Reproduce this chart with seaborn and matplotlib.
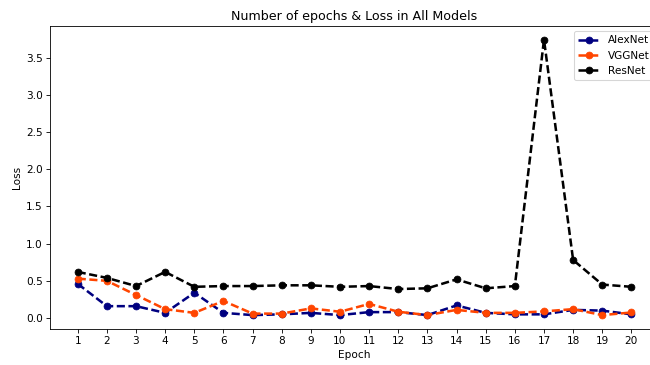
import matplotlib
matplotlib.use('Agg')
import matplotlib.pyplot as plt
import seaborn as sns

# Loss per epoch for the three models
epochs = list(range(1, 21))
alexnet_loss = [0.46, 0.16, 0.16, 0.07, 0.34, 0.07, 0.04, 0.05, 0.07, 0.04,
                0.08, 0.08, 0.04, 0.17, 0.07, 0.05, 0.05, 0.11, 0.10, 0.05]
vggnet_loss = [0.53, 0.50, 0.31, 0.12, 0.07, 0.23, 0.06, 0.06, 0.13, 0.085,
               0.19, 0.085, 0.04, 0.11, 0.07, 0.07, 0.09, 0.12, 0.04, 0.075]
resnet_loss = [0.62, 0.54, 0.43, 0.62, 0.42, 0.43, 0.43, 0.44, 0.44, 0.42,
               0.43, 0.39, 0.40, 0.52, 0.40, 0.43, 3.74, 0.78, 0.45, 0.42]

series = {'AlexNet': (alexnet_loss, 'navy'),
          'VGGNet': (vggnet_loss, 'orangered'),
          'ResNet': (resnet_loss, 'black')}

# small dpi so default 10pt text comes out at the reference's size
dpi = 76
fig, ax = plt.subplots(figsize=(650 / dpi, 365 / dpi), dpi=dpi)

for name, (loss, color) in series.items():
    line = sns.lineplot(x=epochs, y=loss, ax=ax, color=color, linewidth=2.4,
                        marker='o', markersize=6.5, markeredgecolor=color, label=name).lines[-1]
    line.set_dashes((3.2, 1.4))

ax.set_title('Number of epochs & Loss in All Models')
ax.set_xlabel('Epoch')
ax.set_ylabel('Loss')
ax.set_xticks(epochs)
ax.legend(loc='upper right')

# the reference is cut off on the right, so the axes run past the edge
plt.subplots_adjust(left=0.077, right=1.014, top=0.929, bottom=0.099)
plt.savefig('out.png')
